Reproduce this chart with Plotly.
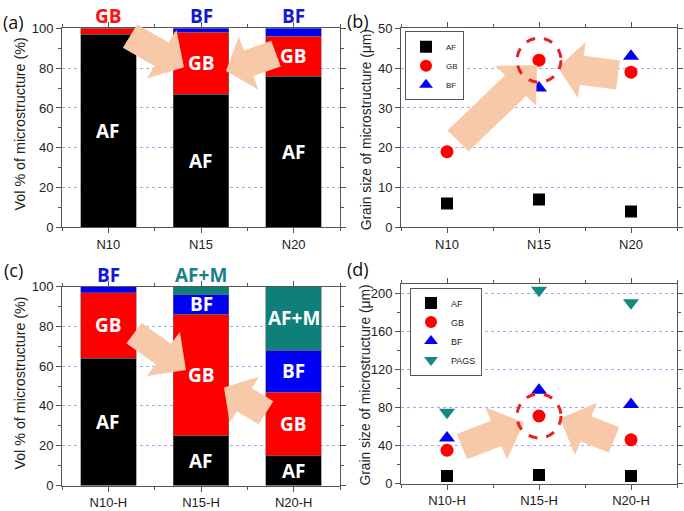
import math
import plotly.graph_objects as go

# ---------------- data ----------------
cats_a = ["N10", "N15", "N20"]
vol_a_AF = [97, 67, 76]
vol_a_GB = [3, 31, 20]
vol_a_BF = [0, 2, 4]

cats_c = ["N10-H", "N15-H", "N20-H"]
vol_c_AF = [64, 25, 15]
vol_c_GB = [33, 61, 32]
vol_c_BF = [3, 10, 21]
vol_c_AFM = [0, 4, 32]

size_b_AF = [6, 7, 4]
size_b_GB = [19, 42, 39]
size_b_BF = [None, 35, 43]

size_d_AF = [8, 9, 8]
size_d_GB = [35, 71, 46]
size_d_BF = [48, 98, 83]
size_d_PAGS = [75, 203, 190]

W, H = 684, 511
COL = {"AF": "#000000", "GB": "#FF0000", "BF": "#0000F5", "AF+M": "#0E8079", "PAGS": "#128A80"}
TOPCOL = {"AF": "#000000", "GB": "#FF1010", "BF": "#1515D8", "AF+M": "#1B7F8A"}
PEACH = "rgb(247,201,168)"
FONT = "Liberation Sans, Arial, sans-serif"
BOLD = "Open Sans, sans-serif"

fig = go.Figure()

def px_x(x):
    return x / W

def px_y(y):
    return 1 - y / H

# ---------- stacked bars ----------
def add_bars(cats, series, xa, ya):
    xs = list(range(len(cats)))
    for name, vals in series:
        fig.add_trace(go.Bar(x=xs, y=vals, width=0.6, marker_color=COL[name],
                             marker_line=dict(color="rgba(110,110,110,0.7)", width=0.8),
                             xaxis=xa, yaxis=ya, showlegend=False, name=name))
    anns = []
    for i in xs:
        base = 0
        top_name = None
        for name, vals in series:
            v = vals[i]
            if v > 0:
                top_name = (name, v)
                if v >= 8:
                    anns.append(dict(x=i, y=base + v / 2, xref=xa, yref=ya, text=name,
                                     showarrow=False,
                                     font=dict(family=BOLD, size=19, color="white", weight="bold")))
            base += v
        if top_name and top_name[1] < 8:
            anns.append(dict(x=i, y=100, xref=xa, yref=ya, text=top_name[0], showarrow=False,
                             yanchor="bottom", yshift=-3,
                             font=dict(family=BOLD, size=19, color=TOPCOL[top_name[0]], weight="bold")))
    return anns

anns = []
anns += add_bars(cats_a, [("AF", vol_a_AF), ("GB", vol_a_GB), ("BF", vol_a_BF)], "x", "y")
anns += add_bars(cats_c, [("AF", vol_c_AF), ("GB", vol_c_GB), ("BF", vol_c_BF), ("AF+M", vol_c_AFM)], "x3", "y3")

# ---------- scatter ----------
SYM = {"AF": "square", "GB": "circle", "BF": "triangle-up", "PAGS": "triangle-down"}
SZ = {"AF": 12, "GB": 13, "BF": 14, "PAGS": 14}

def add_scatter(series, xa, ya, legend):
    for name, vals in series:
        fig.add_trace(go.Scatter(x=list(range(len(vals))), y=vals, mode="markers", name=name,
                                 marker=dict(symbol=SYM[name], size=SZ[name], color=COL[name]),
                                 xaxis=xa, yaxis=ya, legend=legend))

add_scatter([("AF", size_b_AF), ("GB", size_b_GB), ("BF", size_b_BF)], "x2", "y2", "legend")
add_scatter([("AF", size_d_AF), ("GB", size_d_GB), ("BF", size_d_BF), ("PAGS", size_d_PAGS)], "x4", "y4", "legend2")

# ---------- axes ----------
def xax(domain, anchor, cats):
    return dict(domain=domain, anchor=anchor, range=[-0.5, 2.5], tickvals=list(range(len(cats))),
                ticktext=cats, ticks="outside", ticklen=5, tickcolor="#555", showline=True,
                linecolor="#555", linewidth=1, mirror="ticks", showgrid=False, zeroline=False,
                tickfont=dict(family=FONT, size=13, color="#222"),
                minor=dict(ticks="outside", ticklen=3, dtick=0.5, tick0=-0.5, tickcolor="#555", showgrid=False))

def yax(domain, anchor, rng, dtick, minor):
    return dict(domain=domain, anchor=anchor, range=rng, dtick=dtick, ticks="outside", ticklen=5,
                tickcolor="#555", showline=True, linecolor="#555", linewidth=1, mirror="ticks",
                showgrid=True, gridcolor="#a8a8f4", griddash="dot", gridwidth=1, zeroline=False,
                tickfont=dict(family=FONT, size=13, color="#222"),
                minor=dict(ticks="outside", ticklen=3, dtick=minor, tickcolor="#555", showgrid=False))

xl = [px_x(62), px_x(340)]
xr = [px_x(401), px_x(677)]
ytop = [px_y(227), px_y(22)]
yc = [px_y(493), px_y(288)]
yd = [px_y(491), px_y(285)]

fig.update_layout(
    xaxis=xax(xl, "y", cats_a), yaxis=yax(ytop, "x", [0, 100], 20, 10),
    xaxis2=xax(xr, "y2", cats_a), yaxis2=yax(ytop, "x2", [0, 50], 10, 5),
    xaxis3=xax(xl, "y3", cats_c), yaxis3=yax(yc, "x3", [0, 100], 20, 10),
    xaxis4=xax(xr, "y4", cats_c), yaxis4=yax(yd, "x4", [0, 210], 40, 20),
)

# ---------- titles / panel labels ----------
for x, y, t, s in [(20, 121, "Vol % of microstructure (%)", 14.3),
                   (366, 127, "Grain size of microstructure (μm)", 13.8),
                   (20, 388, "Vol % of microstructure (%)", 14.3),
                   (366, 390, "Grain size of microstructure (μm)", 13.8)]:
    anns.append(dict(x=px_x(x), y=px_y(y), xref="paper", yref="paper", text=t, textangle=-90,
                     xanchor="center", yanchor="middle",
                     showarrow=False, font=dict(family=FONT, size=s, color="#222")))
for x, y, t in [(13, 15, "(a)"), (358, 14, "(b)"), (13, 271, "(c)"), (358, 270, "(d)")]:
    anns.append(dict(x=px_x(x), y=px_y(y), xref="paper", yref="paper", text=t, showarrow=False,
                     xanchor="center", yanchor="middle",
                     font=dict(family=BOLD, size=18, color="#111")))

# ---------- arrows ----------
def arrow_path(tail, tip, sw, hw, hl):
    tx, ty = tail
    qx, qy = tip
    dx, dy = qx - tx, qy - ty
    L = math.hypot(dx, dy)
    ux, uy = dx / L, dy / L
    nx, ny = -uy, ux
    bx, by = qx - ux * hl, qy - uy * hl
    pts = [(tx + nx * sw / 2, ty + ny * sw / 2), (bx + nx * sw / 2, by + ny * sw / 2),
           (bx + nx * hw / 2, by + ny * hw / 2), (qx, qy),
           (bx - nx * hw / 2, by - ny * hw / 2), (bx - nx * sw / 2, by - ny * sw / 2),
           (tx - nx * sw / 2, ty - ny * sw / 2)]
    return "M " + " L ".join(f"{px_x(a):.5f},{px_y(b):.5f}" for a, b in pts) + " Z"

arrows = [((130, 30), (184, 62), 28, 58, 26), ((276, 48), (226, 66), 28, 58, 24),
          ((458, 138), (537, 60), 30, 58, 30), ((618, 70), (558, 62), 30, 58, 24),
          ((134, 336), (186, 374), 26, 56, 28), ((266, 418), (224, 392), 28, 56, 24),
          ((462, 453), (524, 428), 28, 58, 30), ((614, 446), (560, 424), 28, 58, 28)]
shapes = []
for a in arrows:
    shapes.append(dict(type="path", path=arrow_path(*a), xref="paper", yref="paper",
                       fillcolor=PEACH, line=dict(width=0), layer="above"))

# dashed circles around the N15 GB points
for xa, ya, val in [("x2", "y2", size_b_GB[1]), ("x4", "y4", size_d_GB[1])]:
    shapes.append(dict(type="circle", xref=xa, yref=ya, xsizemode="pixel", ysizemode="pixel",
                       xanchor=1, yanchor=val, x0=-22, x1=22, y0=-22, y1=22,
                       line=dict(color="#E82020", width=3, dash="dash"), layer="above"))

fig.update_layout(
    width=W, height=H, margin=dict(l=0, r=0, t=0, b=0), barmode="stack",
    paper_bgcolor="white", plot_bgcolor="white", annotations=anns, shapes=shapes,
    legend=dict(x=px_x(405), y=px_y(25), xanchor="left", yanchor="top", bordercolor="#555",
                borderwidth=1, bgcolor="white", font=dict(family=FONT, size=8, color="#222"),
                itemsizing="constant", tracegroupgap=0, traceorder="normal", itemwidth=30),
    legend2=dict(x=px_x(410), y=px_y(289), xanchor="left", yanchor="top", bordercolor="#555",
                 borderwidth=1, bgcolor="white", font=dict(family=FONT, size=9, color="#222"),
                 itemsizing="constant", tracegroupgap=0, traceorder="normal", itemwidth=30),
)

fig.write_html("out.html")
